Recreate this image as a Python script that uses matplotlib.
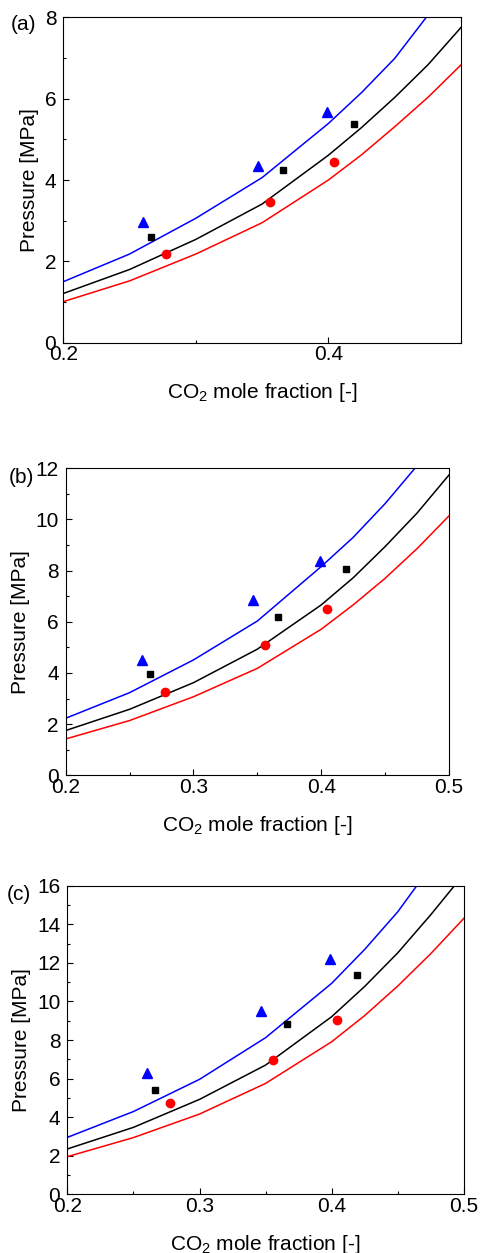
import numpy as np
import matplotlib.pyplot as plt
from matplotlib.ticker import MultipleLocator

plt.rcParams['font.family'] = ['Liberation Sans', 'DejaVu Sans']
plt.rcParams['mathtext.default'] = 'regular'

# model curves (CO2 mole fraction)
x_model = [0.20, 0.25, 0.30, 0.35, 0.40, 0.425, 0.45, 0.475, 0.50]

blue_a = [1.50, 2.18, 3.06, 4.06, 5.39, 6.15, 6.99, 8.05, 9.30]
black_a = [1.21, 1.80, 2.54, 3.41, 4.61, 5.29, 6.03, 6.83, 7.75]
red_a = [1.01, 1.52, 2.18, 2.95, 4.00, 4.62, 5.31, 6.03, 6.83]

blue_b = [2.23, 3.23, 4.51, 6.03, 8.16, 9.30, 10.62, 12.10, 14.00]
black_b = [1.75, 2.58, 3.62, 4.93, 6.66, 7.72, 8.94, 10.25, 11.74]
red_b = [1.42, 2.14, 3.07, 4.18, 5.71, 6.66, 7.70, 8.86, 10.14]

blue_c = [2.95, 4.29, 5.96, 8.12, 10.94, 12.70, 14.65, 17.00, 20.00]
black_c = [2.35, 3.47, 4.92, 6.70, 9.21, 10.78, 12.52, 14.50, 16.60]
red_c = [1.95, 2.94, 4.16, 5.75, 7.91, 9.27, 10.80, 12.48, 14.31]

# experimental points
x_tri = [0.260, 0.3465, 0.3987]
x_sq = [0.266, 0.366, 0.419]
x_circ = [0.2775, 0.3557, 0.4042]

tri_a = [2.96, 4.34, 5.66]
sq_a = [2.61, 4.25, 5.38]
circ_a = [2.18, 3.45, 4.45]

tri_b = [4.51, 6.85, 8.38]
sq_b = [3.95, 6.20, 8.08]
circ_b = [3.27, 5.08, 6.49]

tri_c = [6.31, 9.50, 12.22]
sq_c = [5.39, 8.81, 11.35]
circ_c = [4.72, 6.98, 9.02]

panel_labels = ['(a)', '(b)', '(c)']
y_max = [8, 12, 16]
x_major = [0.2, 0.1, 0.1]

fig = plt.figure(figsize=(4.81, 12.53), dpi=100)

W, H = 481.0, 1253.0
# axes boxes in pixels: left, top, right, bottom
boxes = [(63.3, 17.3, 461.0, 342.7),
         (65.7, 468.3, 449.0, 775.3),
         (67.3, 885.7, 463.9, 1194.3)]
label_pos = [(23, 25), (21, 477), (19, 894)]

curves = [(blue_a, black_a, red_a), (blue_b, black_b, red_b), (blue_c, black_c, red_c)]
points = [(tri_a, sq_a, circ_a), (tri_b, sq_b, circ_b), (tri_c, sq_c, circ_c)]

for i in range(3):
	l, t, r, b = boxes[i]
	ax = fig.add_axes([l / W, 1 - b / H, (r - l) / W, (b - t) / H])

	bl, bk, rd = curves[i]
	ax.plot(x_model, bl, color='blue', lw=1.1)
	ax.plot(x_model, bk, color='black', lw=1.1)
	ax.plot(x_model, rd, color='red', lw=1.1)

	tr, sq, ci = points[i]
	ax.plot(x_tri, tr, ls='none', marker='^', color='blue', ms=7)
	ax.plot(x_sq, sq, ls='none', marker='s', color='black', ms=5)
	ax.plot(x_circ, ci, ls='none', marker='o', color='red', ms=6)

	ax.set_xlim(0.2, 0.5)
	ax.set_ylim(0, y_max[i])
	ax.xaxis.set_major_locator(MultipleLocator(x_major[i]))
	ax.xaxis.set_minor_locator(MultipleLocator(x_major[i] / 2))
	ax.yaxis.set_major_locator(MultipleLocator(2))
	ax.yaxis.set_minor_locator(MultipleLocator(1))
	ax.tick_params(which='both', direction='in', top=False, right=False, labelsize=15)
	ax.tick_params(which='major', length=4, width=0.8)
	ax.tick_params(which='minor', length=2.5, width=0.8)
	ax.tick_params(axis='x', pad=2)
	ax.tick_params(axis='y', pad=5)
	ax.xaxis.set_major_formatter(plt.FuncFormatter(lambda v, p: '%g' % v))

	ax.set_xlabel('CO$_2$ mole fraction [-]', fontsize=15, labelpad=12)
	ax.set_ylabel('Pressure [MPa]', fontsize=15, labelpad=4)

	fig.text(label_pos[i][0] / W, 1 - label_pos[i][1] / H, panel_labels[i],
		fontsize=15, ha='center', va='center')

fig.savefig('out.png', dpi=100)
